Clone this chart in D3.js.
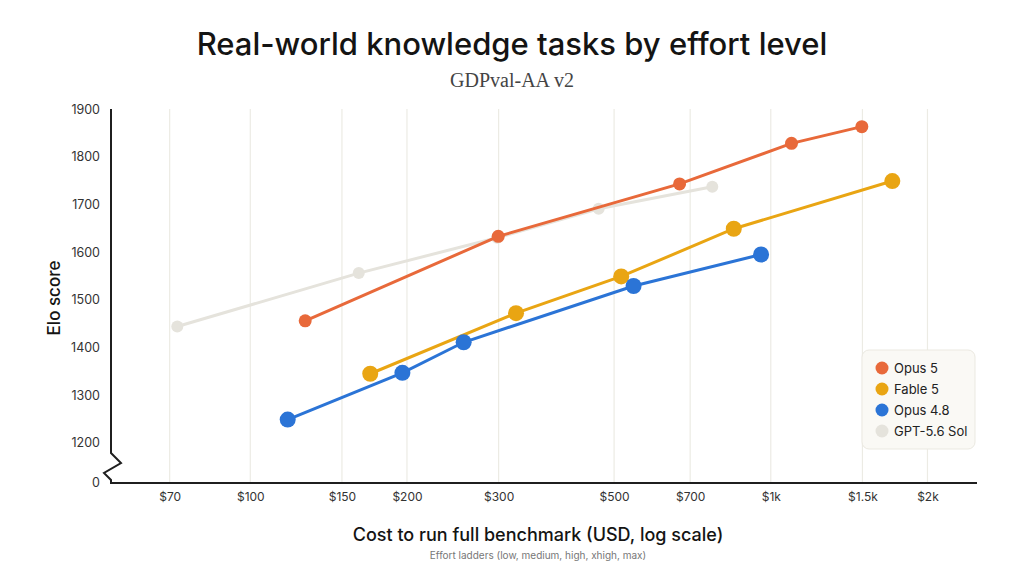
<!DOCTYPE html>
<html>
<head>
<meta charset="utf-8">
<script src="https://cdn.jsdelivr.net/npm/d3@7"></script>
<style>
  body { margin: 0; background: #fff; }
  text { font-family: Inter, "Noto Sans", sans-serif; }
</style>
</head>
<body>
<div id="root"></div>
<script>
// series: cost (USD) and Elo score per effort level
var seriesNames = ["Opus 5", "Fable 5", "Opus 4.8", "GPT-5.6 Sol"];
var seriesColors = ["#e8693a", "#e9a513", "#2b74d6", "#e5e3dc"];
var opus5Cost = [127.5, 299.5, 668, 1096, 1496];
var opus5Elo = [1456, 1633, 1743, 1828, 1863];
var fable5Cost = [170, 324, 516, 849, 1712];
var fable5Elo = [1345, 1472, 1549, 1649, 1749];
var opus48Cost = [118, 196, 257, 545, 958];
var opus48Elo = [1249, 1347, 1411, 1529, 1595];
var gptCost = [72.4, 161.6, 298, 467, 772];
var gptElo = [1444, 1556, 1630, 1691, 1737];

var xTicks = [70, 100, 150, 200, 300, 500, 700, 1000, 1500, 2000];
var xTickLabels = ["$70", "$100", "$150", "$200", "$300", "$500", "$700", "$1k", "$1.5k", "$2k"];
var yTicks = [1200, 1300, 1400, 1500, 1600, 1700, 1800, 1900];

var W = 1024, H = 576;
var plotLeft = 111, plotRight = 977, plotTop = 109, plotBottom = 483;

var svg = d3.select("#root")
    .append("svg")
    .attr("width", W)
    .attr("height", H);

var x = d3.scaleLog().domain([54, 2490]).range([plotLeft, plotRight]);
var y = d3.scaleLinear().domain([1116, 1900]).range([plotBottom, plotTop]);

// titles
svg.append("text")
    .attr("x", W / 2).attr("y", 55)
    .attr("text-anchor", "middle")
    .attr("font-size", 31).attr("font-weight", 500)
    .attr("fill", "#141413")
    .text("Real-world knowledge tasks by effort level");
svg.append("text")
    .attr("x", W / 2).attr("y", 87)
    .attr("text-anchor", "middle")
    .style("font-family", "'Liberation Serif', 'DejaVu Serif', serif")
    .attr("font-size", 20)
    .attr("fill", "#444")
    .text("GDPval-AA v2");

// vertical grid
svg.append("g")
    .selectAll("line")
    .data(xTicks)
    .enter()
    .append("line")
    .attr("x1", function (d) { return x(d); })
    .attr("x2", function (d) { return x(d); })
    .attr("y1", plotTop)
    .attr("y2", plotBottom)
    .attr("stroke", "#ecebe4")
    .attr("stroke-width", 1.2);

// x axis
var xAxis = svg.append("g")
    .attr("transform", "translate(0," + plotBottom + ")")
    .call(d3.axisBottom(x).tickValues(xTicks).tickSize(0).tickPadding(9)
        .tickFormat(function (d, i) { return xTickLabels[i]; }));
xAxis.select(".domain").remove();
xAxis.selectAll("text").attr("font-size", 12).attr("fill", "#333")
    .style("font-family", "Inter, sans-serif");
svg.append("line")
    .attr("x1", plotLeft - 1).attr("x2", plotRight)
    .attr("y1", plotBottom).attr("y2", plotBottom)
    .attr("stroke", "#1f1f1f").attr("stroke-width", 2);

// y axis
var yAxis = svg.append("g")
    .attr("transform", "translate(" + plotLeft + ",0)")
    .call(d3.axisLeft(y).tickValues(yTicks).tickSize(0).tickPadding(11)
        .tickFormat(d3.format("d")));
yAxis.select(".domain").remove();
yAxis.selectAll("text").attr("font-size", 12.5).attr("fill", "#333")
    .style("font-family", "Inter, sans-serif");
svg.append("text")
    .attr("x", plotLeft - 11).attr("y", plotBottom)
    .attr("dy", "0.32em")
    .attr("text-anchor", "end")
    .attr("font-size", 12.5).attr("fill", "#333")
    .text("0");

// axis line with break
svg.append("path")
    .attr("d", "M" + plotLeft + "," + plotTop + " L" + plotLeft + "," + 453 +
        " L" + (plotLeft + 10) + "," + 463 + " L" + (plotLeft - 7) + "," + 473 +
        " L" + plotLeft + "," + 480 + " L" + plotLeft + "," + (plotBottom + 1))
    .attr("fill", "none")
    .attr("stroke", "#1f1f1f")
    .attr("stroke-width", 2)
    .attr("stroke-linejoin", "miter");

// axis labels
svg.append("text")
    .attr("transform", "translate(60,298) rotate(-90)")
    .attr("text-anchor", "middle")
    .attr("font-size", 17).attr("font-weight", 500)
    .attr("fill", "#141413")
    .text("Elo score");
svg.append("text")
    .attr("x", 538).attr("y", 541)
    .attr("text-anchor", "middle")
    .attr("font-size", 18).attr("font-weight", 500)
    .attr("fill", "#141413")
    .text("Cost to run full benchmark (USD, log scale)");
svg.append("text")
    .attr("x", 538).attr("y", 559)
    .attr("text-anchor", "middle")
    .attr("font-size", 10)
    .attr("fill", "#777")
    .text("Effort ladders (low, medium, high, xhigh, max)");

// series, drawn back to front
var series = [
    { name: seriesNames[3], color: seriesColors[3], cost: gptCost, elo: gptElo, r: 6 },
    { name: seriesNames[0], color: seriesColors[0], cost: opus5Cost, elo: opus5Elo, r: 6.5 },
    { name: seriesNames[1], color: seriesColors[1], cost: fable5Cost, elo: fable5Elo, r: 8 },
    { name: seriesNames[2], color: seriesColors[2], cost: opus48Cost, elo: opus48Elo, r: 8 }
];

var line = d3.line()
    .x(function (d) { return x(d[0]); })
    .y(function (d) { return y(d[1]); });

series.forEach(function (s) {
    var pts = d3.zip(s.cost, s.elo);
    var g = svg.append("g");
    g.append("path")
        .datum(pts)
        .attr("d", line)
        .attr("fill", "none")
        .attr("stroke", s.color)
        .attr("stroke-width", 3);
    g.selectAll("circle")
        .data(pts)
        .enter()
        .append("circle")
        .attr("cx", function (d) { return x(d[0]); })
        .attr("cy", function (d) { return y(d[1]); })
        .attr("r", s.r)
        .attr("fill", s.color);
});

// legend
var lg = svg.append("g").attr("transform", "translate(862,350)");
lg.append("rect")
    .attr("width", 113).attr("height", 99)
    .attr("rx", 7)
    .attr("fill", "#faf9f5")
    .attr("stroke", "#ebe9e1");
var items = lg.selectAll("g.item")
    .data(seriesNames)
    .enter()
    .append("g")
    .attr("transform", function (d, i) { return "translate(20," + (18 + i * 21) + ")"; });
items.append("circle")
    .attr("r", 6.5)
    .attr("fill", function (d, i) { return seriesColors[i]; });
items.append("text")
    .attr("x", 12).attr("dy", "0.35em")
    .attr("font-size", 13).attr("fill", "#222")
    .text(function (d) { return d; });
</script>
</body>
</html>
